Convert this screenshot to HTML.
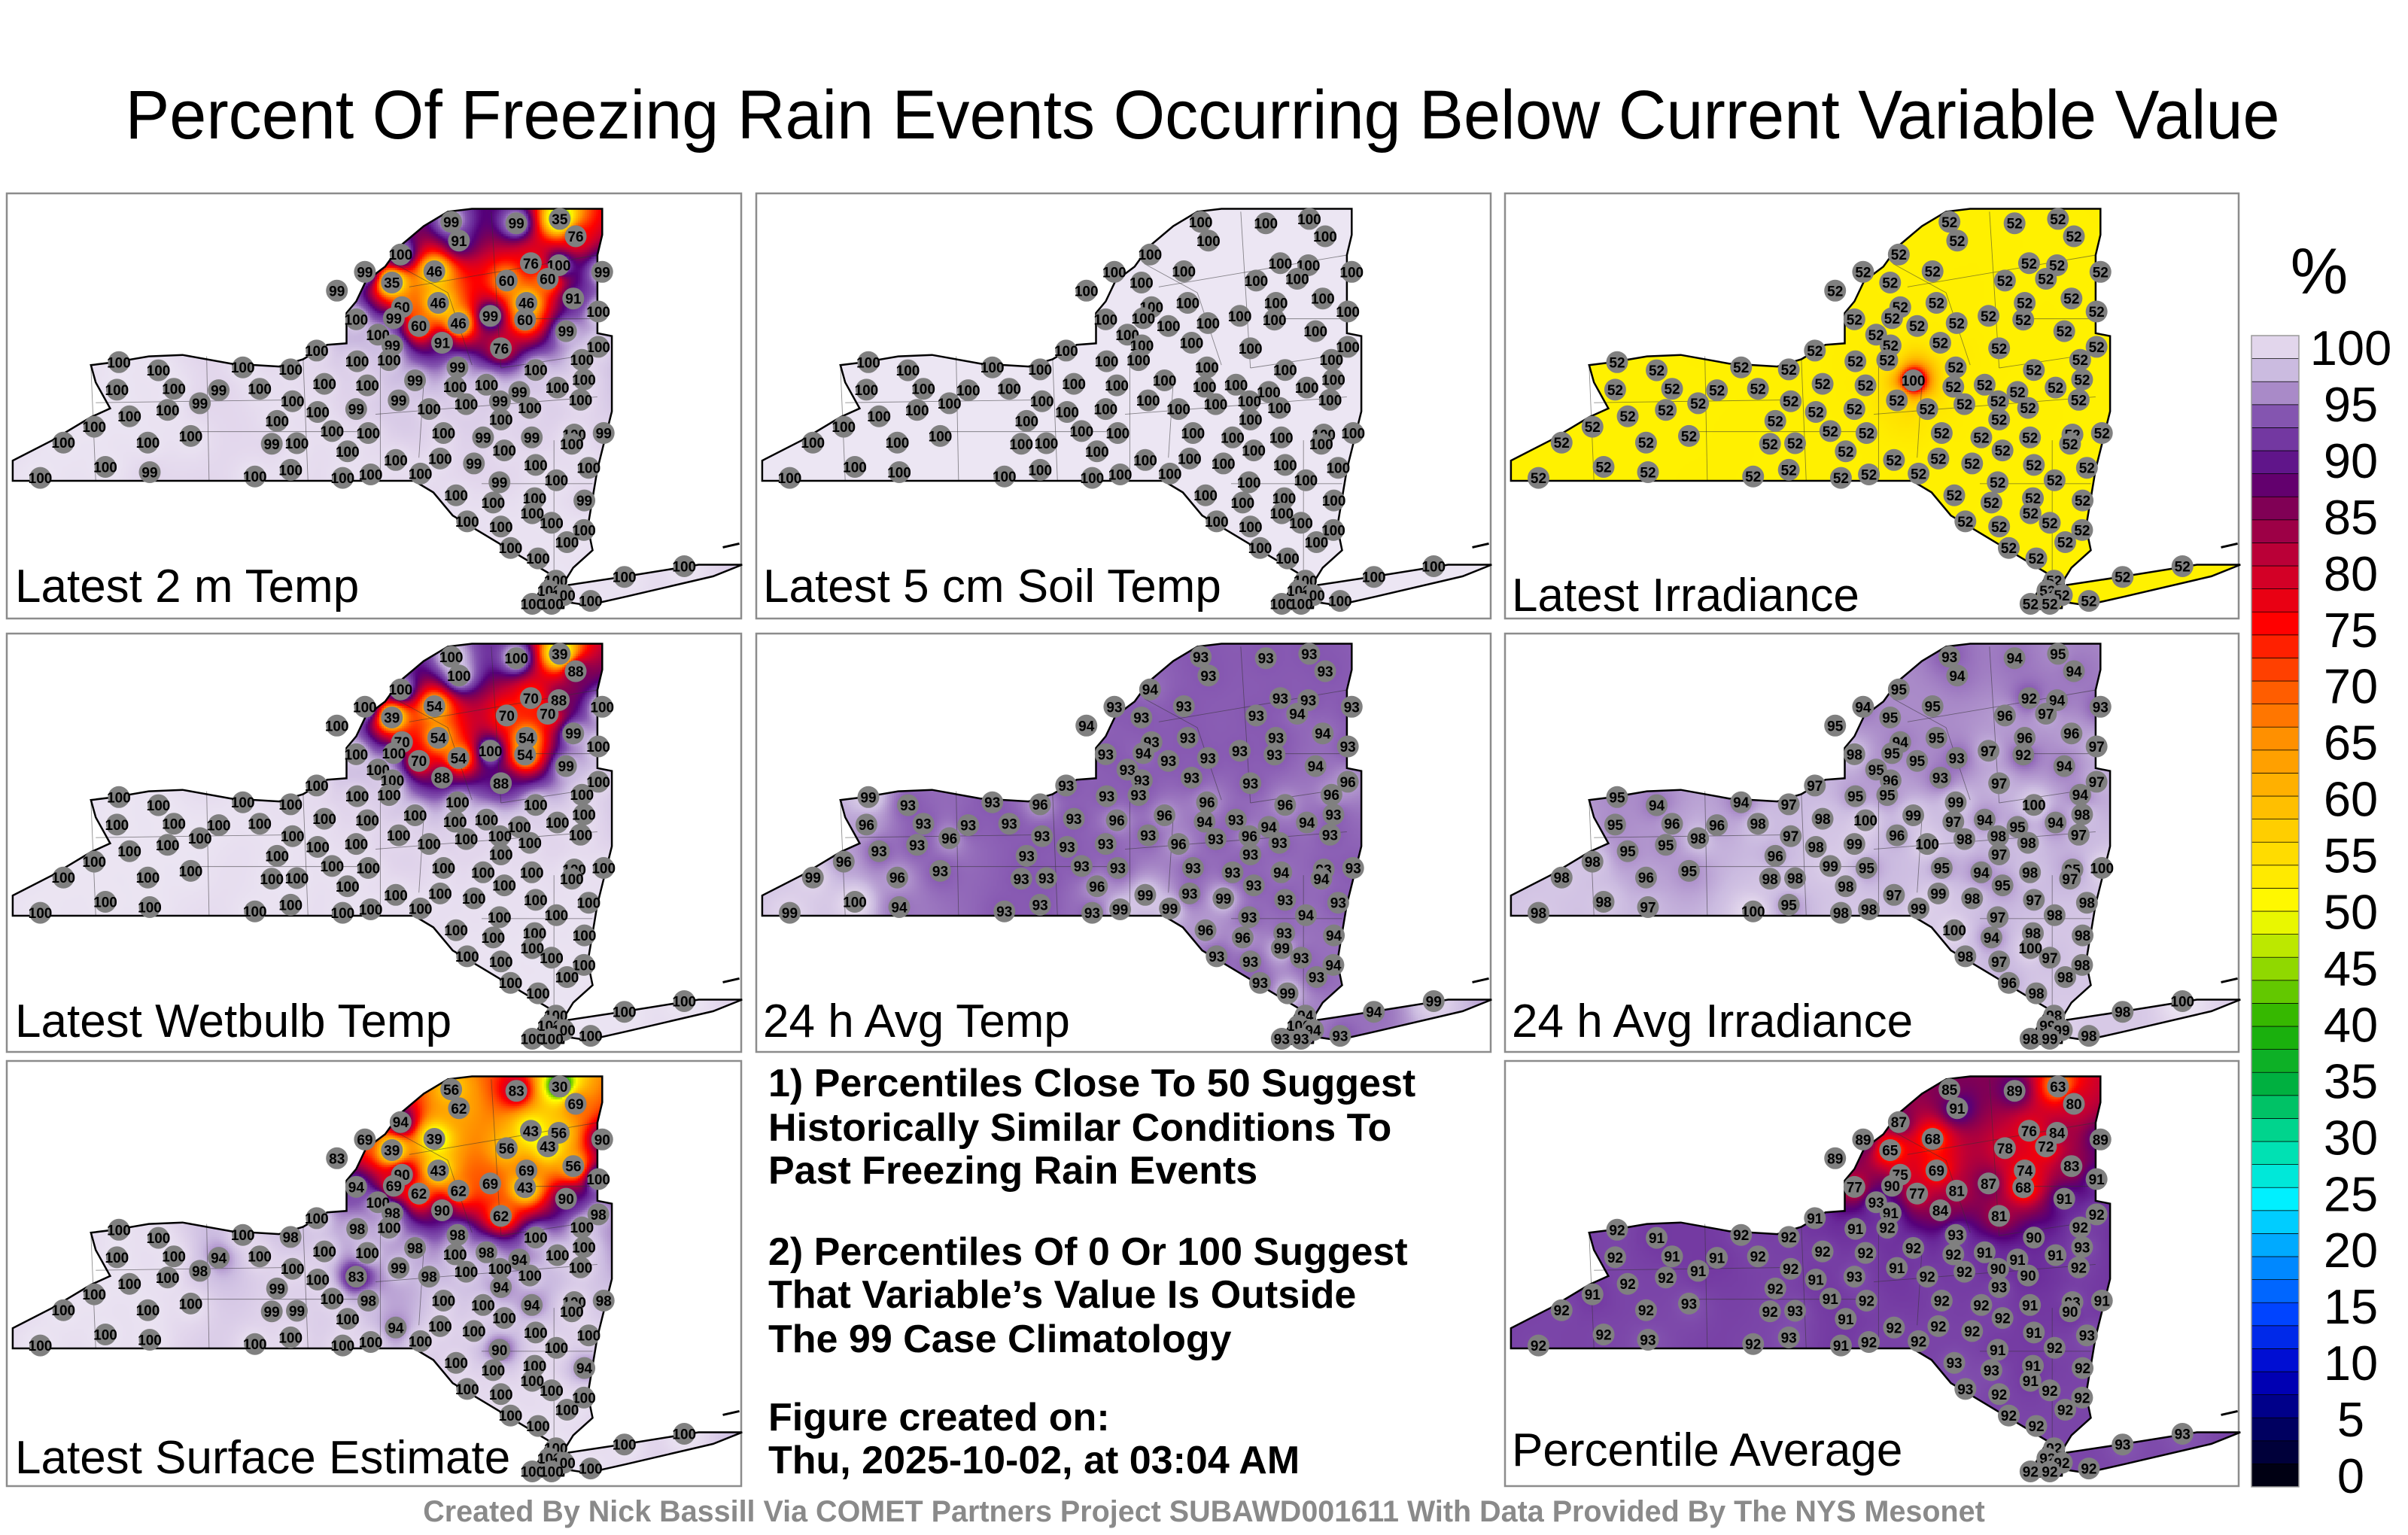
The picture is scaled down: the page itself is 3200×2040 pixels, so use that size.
<!DOCTYPE html>
<html><head><meta charset="utf-8"><style>
html,body{margin:0;padding:0;background:#fff}
#wrap{position:relative;width:3200px;height:2040px}
#field{position:absolute;left:0;top:0}
#fig{position:absolute;left:0;top:0;display:block}
</style></head><body>
<div id="wrap">
<canvas id="field" width="3200" height="2040"></canvas>
<svg id="fig" width="3200" height="2040" viewBox="0 0 3200 2040" xmlns="http://www.w3.org/2000/svg">
<text x="1598" y="184" text-anchor="middle" font-family="Liberation Sans, sans-serif" font-size="92" textLength="2863" lengthAdjust="spacingAndGlyphs">Percent Of Freezing Rain Events Occurring Below Current Variable Value</text>
<g id="panels"></g>
<g id="notes" font-family="Liberation Sans, sans-serif" font-weight="bold" font-size="52">
<text x="1021" y="1457">1) Percentiles Close To 50 Suggest</text>
<text x="1021" y="1516">Historically Similar Conditions To</text>
<text x="1021" y="1573">Past Freezing Rain Events</text>
<text x="1021" y="1681">2) Percentiles Of 0 Or 100 Suggest</text>
<text x="1021" y="1738">That Variable’s Value Is Outside</text>
<text x="1021" y="1797">The 99 Case Climatology</text>
<text x="1021" y="1901">Figure created on:</text>
<text x="1021" y="1958">Thu, 2025-10-02, at 03:04 AM</text>
</g>
<text x="1600" y="2022" text-anchor="middle" font-family="Liberation Sans, sans-serif" font-weight="bold" font-size="39.5" fill="#8a8a8a">Created By Nick Bassill Via COMET Partners Project SUBAWD001611 With Data Provided By The NYS Mesonet</text>
<g id="colorbar"></g>
</svg>
</div>
<script>
// station locations (map units)
const stationX=[937,1072,1162,1195,953,832,1102,1160,1250,758,902,1052,1137,814,700,1190,910,1093,835,1242,740,818,1018,1090,870,952,1175,785,918,815,1040,1242,658,742,808,1208,248,330,505,604,950,1112,1212,674,763,862,244,362,455,540,945,1010,1078,1157,416,608,828,968,1038,1205,740,660,891,1100,270,349,576,1040,197,690,765,921,1003,1104,1192,1253,133,308,397,565,617,722,1047,1187,822,914,984,1112,1222,220,312,85,530,604,712,770,873,1037,1155,947,1024,1110,1213,1105,1145,970,1040,1212,1177,1060,1117,1154,1140,1170,1105,1145,1226,1296,1420];
const stationY=[145,150,135,195,210,258,288,295,318,318,316,348,342,355,383,410,425,425,440,455,482,478,470,483,505,495,523,535,563,572,582,577,590,627,623,622,630,658,648,655,648,657,690,705,710,693,725,722,727,722,715,708,733,718,772,765,762,775,765,760,792,802,792,788,817,795,833,828,853,868,875,875,890,890,880,875,908,908,885,912,910,938,935,912,968,963,980,985,995,992,1010,1030,1025,1002,1030,1018,1015,1045,1038,1090,1115,1100,1108,1152,1185,1180,1198,1210,1252,1272,1308,1385,1420,1435,1465,1465,1455,1372,1335];
const vals2m=[99,99,35,76,91,100,76,100,99,99,46,60,60,35,99,91,46,46,60,100,100,99,99,60,60,46,99,100,91,99,76,100,100,100,100,100,100,100,100,100,99,100,100,100,100,99,100,100,99,100,100,100,99,100,99,100,99,100,99,100,99,100,100,100,100,100,100,100,100,100,100,100,99,99,100,99,100,100,100,99,100,100,100,100,100,100,99,100,100,100,99,100,100,100,100,100,100,99,100,100,100,100,99,100,100,100,100,100,100,100,100,100,100,100,100,100,100,100,100];
const valsSoil=[100,100,100,100,100,100,100,100,100,100,100,100,100,100,100,100,100,100,100,100,100,100,100,100,100,100,100,100,100,100,100,100,100,100,100,100,100,100,100,100,100,100,100,100,100,100,100,100,100,100,100,100,100,100,100,100,100,100,100,100,100,100,100,100,100,100,100,100,100,100,100,100,100,100,100,100,100,100,100,100,100,100,100,100,100,100,100,100,100,100,100,100,100,100,100,100,100,100,100,100,100,100,100,100,100,100,100,100,100,100,100,100,100,100,100,100,100,100,100];
const valsIrr=[52,52,52,52,52,52,52,52,52,52,52,52,52,52,52,52,52,52,52,52,52,52,52,52,52,52,52,52,52,52,52,52,52,52,52,52,52,52,52,52,52,52,52,52,52,100,52,52,52,52,52,52,52,52,52,52,52,52,52,52,52,52,52,52,52,52,52,52,52,52,52,52,52,52,52,52,52,52,52,52,52,52,52,52,52,52,52,52,52,52,52,52,52,52,52,52,52,52,52,52,52,52,52,52,52,52,52,52,52,52,52,52,52,52,52,52,52,52,52];
const valsWet=[100,100,39,88,100,100,70,88,100,100,54,70,70,39,100,99,54,54,70,100,100,100,100,54,70,54,99,100,88,100,88,100,100,100,100,100,100,100,100,100,100,100,100,100,100,100,100,100,100,100,100,100,100,100,100,100,100,100,100,100,100,100,100,100,100,100,100,100,100,100,100,100,100,100,100,100,100,100,100,100,100,100,100,100,100,100,100,100,100,100,100,100,100,100,100,100,100,100,100,100,100,100,100,100,100,100,100,100,100,100,100,100,100,100,100,100,100,100,100];
const valsAvgT=[93,93,93,93,93,94,93,93,93,93,93,93,94,93,94,94,93,93,93,93,93,94,93,93,93,93,94,93,93,93,93,96,93,93,93,96,99,93,93,96,96,96,93,93,96,96,96,93,93,93,94,93,94,94,96,93,93,93,96,93,93,93,96,93,93,93,93,93,96,93,93,93,93,94,93,93,99,96,93,93,93,96,93,94,99,93,99,93,93,100,94,99,93,93,93,99,99,93,94,96,96,93,94,99,93,93,93,94,93,93,99,94,100,94,93,93,93,94,99];
const valsAvgI=[93,94,95,94,94,95,92,94,93,94,95,96,97,95,95,96,95,96,94,97,98,95,97,92,95,93,94,95,93,96,97,97,97,95,95,94,95,94,94,97,99,100,98,98,100,99,95,96,96,98,97,94,95,94,98,97,96,98,98,97,99,98,100,98,95,95,96,97,98,99,95,95,94,98,95,100,98,96,95,98,98,98,95,97,97,99,98,97,98,98,97,98,100,95,98,98,99,97,98,100,94,98,98,100,97,98,97,98,98,96,98,98,99,99,98,99,98,98,100];
const valsSfc=[56,83,30,69,62,94,43,56,90,69,39,56,43,39,83,56,43,69,90,100,94,69,69,43,62,62,90,100,90,98,62,98,100,98,100,100,100,100,100,98,98,100,100,100,100,98,100,100,94,100,100,98,94,100,98,100,99,100,100,100,83,100,98,100,100,100,99,94,100,100,98,100,100,94,100,98,100,100,100,99,99,100,100,100,94,100,100,100,100,100,100,100,100,100,100,100,100,90,100,100,100,100,94,100,100,100,100,100,100,100,100,100,100,100,100,100,100,100,100];
const valsAvg=[85,89,63,80,91,87,76,84,89,89,68,78,72,65,89,83,69,74,75,91,77,90,87,68,77,81,91,93,84,91,81,92,91,91,92,92,92,91,92,92,93,90,93,92,92,92,92,91,91,92,92,91,91,91,91,92,91,92,90,92,93,91,92,90,92,92,92,93,91,91,92,92,92,91,93,91,92,92,93,92,93,91,92,90,92,92,92,91,93,92,93,92,92,93,91,92,92,91,92,93,93,91,92,91,92,93,92,92,92,92,92,92,92,92,92,92,92,93,93];
const panelTitles=["Latest 2 m Temp","Latest 5 cm Soil Temp","Latest Irradiance","Latest Wetbulb Temp","24 h Avg Temp","24 h Avg Irradiance","Latest Surface Estimate","Percentile Average"];
const panelValues=[vals2m,valsSoil,valsIrr,valsWet,valsAvgT,valsAvgI,valsSfc,valsAvg];
const cbTicks=[0,5,10,15,20,25,30,35,40,45,50,55,60,65,70,75,80,85,90,95,100];

const stops=[[0,"#000000"],[5,"#000060"],[10,"#0000c8"],[15,"#0044ff"],[20,"#0099ff"],[25,"#00f0ff"],[30,"#00dda0"],[35,"#00b040"],[40,"#20b000"],[45,"#90d800"],[50,"#ffff00"],[55,"#ffdc00"],[60,"#ffb800"],[65,"#ff9000"],[70,"#ff5000"],[75,"#ff0000"],[80,"#c80030"],[85,"#800055"],[88,"#55007a"],[90,"#6a2a9a"],[93,"#8455b0"],[95,"#a98ac8"],[97,"#cbbbe0"],[99,"#e2d6ec"],[100,"#ece6f3"]];
const stopRGB=stops.map(s=>[s[0],[1,3,5].map(i=>parseInt(s[1].substr(i,2),16))]);
function rgb(v){
  if(v<=0)return stopRGB[0][1];
  for(let i=1;i<stopRGB.length;i++){
    if(v<=stopRGB[i][0]){const a=stopRGB[i-1],b=stopRGB[i];const t=(v-a[0])/(b[0]-a[0]);
      return a[1].map((x,k)=>Math.round(x+(b[1][k]-x)*t));}
  }
  return stopRGB[stopRGB.length-1][1];
}
const color=v=>"rgb("+rgb(v).join(",")+")";
const NS="http://www.w3.org/2000/svg";
function mk(t,attrs,parent){const e=document.createElementNS(NS,t);for(const k in attrs)e.setAttribute(k,attrs[k]);if(parent)parent.appendChild(e);return e;}
const px=x=>x/1.56-10, py=y=>y/2.6-18;
const outline=[[28,1040],[28,970],[110,900],[190,820],[230,790],[200,700],[190,640],[240,630],[310,610],[380,605],[480,635],[580,645],[630,620],[680,570],[720,565],[720,460],[740,420],[760,350],[800,300],[830,230],[880,160],[930,110],[980,100],[1250,100],[1250,190],[1240,260],[1240,400],[1240,530],[1270,540],[1270,800],[1255,900],[1240,1000],[1230,1100],[1220,1200],[1230,1280],[1190,1340],[1175,1380],[1170,1480],[1100,1485],[1140,1360],[1070,1290],[1000,1220],[940,1160],[900,1080],[860,1040]];
const island=[[1180,1400],[1300,1370],[1450,1330],[1540,1330],[1480,1370],[1300,1440],[1220,1470],[1180,1460]];
const pathOf=pts=>"M"+pts.map(p=>px(p[0]).toFixed(1)+","+py(p[1]).toFixed(1)).join("L")+"Z";
const statePath=pathOf(outline)+pathOf(island);
const innerLines=[[[190,640],[200,1040]],[[430,610],[435,1040]],[[630,620],[640,1040]],[[790,620],[790,1040]],[[880,700],[870,960]],[[200,770],[620,760]],[[400,870],[780,870]],[[780,810],[1240,750]],[[1020,110],[1040,650]],[[850,370],[1240,260]],[[820,290],[930,390]],[[930,390],[980,640]],[[1100,480],[1240,480]],[[1040,650],[1240,600]],[[1000,1050],[1230,1050]],[[1150,900],[1150,1380]]];

const panelsG=document.getElementById("panels");
const ctx=document.getElementById("field").getContext("2d");
const origins=[[9,257,976,565],[1005,257,976,565],[2000,257,975,565],[9,842,976,556],[1005,842,976,556],[2000,842,975,556],[9,1410,976,565],[2000,1410,975,565]];
const mapDy=[0,0,0,-7,-7,-7,0,0];
const labelY=[543,543,555,536,536,536,548,538];
const SP=stationX.map((sx,i)=>[px(sx),py(stationY[i])]);
origins.forEach((o,pi)=>{
  const W=o[2],H=o[3],dy=mapDy[pi];
  const vals=panelValues[pi];
  const off=document.createElement("canvas");off.width=W;off.height=H;
  const octx=off.getContext("2d");const img=octx.createImageData(W,H);const D=img.data;
  const st=3;
  for(let y=0;y<H;y+=st){for(let x=0;x<W;x+=st){
    let sw=0,sv=0;const cy=y+1-dy,cx=x+1;
    for(let i=0;i<SP.length;i++){const ddx=cx-SP[i][0],ddy=cy-SP[i][1];const d2=ddx*ddx+ddy*ddy+60;const w=1/Math.pow(d2,1.25);sw+=w;sv+=w*vals[i];}
    const c=rgb(sv/sw);
    for(let yy=y;yy<Math.min(y+st,H);yy++)for(let xx=x;xx<Math.min(x+st,W);xx++){const k=(yy*W+xx)*4;D[k]=c[0];D[k+1]=c[1];D[k+2]=c[2];D[k+3]=255;}
  }}
  octx.putImageData(img,0,0);
  ctx.save();ctx.translate(o[0],o[1]+dy);ctx.clip(new Path2D(statePath));ctx.drawImage(off,0,-dy);ctx.restore();

  const frame=mk("rect",{x:o[0],y:o[1],width:W,height:H,fill:"none",stroke:"#8c8c8c","stroke-width":2.5},panelsG);
  
  
  const g=mk("g",{transform:"translate("+o[0]+","+(o[1]+dy)+")"},panelsG);
  
  
  innerLines.forEach(l=>{mk("line",{x1:px(l[0][0]),y1:py(l[0][1]),x2:px(l[1][0]),y2:py(l[1][1]),stroke:"#333","stroke-width":0.9,opacity:0.55},g);});
  const ol=mk("path",{d:statePath,fill:"none",stroke:"#000","stroke-width":2.5},g);
  
  
  mk("path",{d:"M"+px(1500)+","+py(1270)+"l22,-5",stroke:"#000","stroke-width":3},g);
  stationX.forEach((sx,i)=>{
    const sg=mk("g",{},g);
    
    
    mk("circle",{cx:SP[i][0],cy:SP[i][1],r:14.5,fill:"#808080"},sg);
    const t=mk("text",{x:SP[i][0],y:SP[i][1]+7,"text-anchor":"middle","font-family":"Liberation Sans, sans-serif","font-weight":"bold","font-size":19,fill:"#000"},sg);
    t.textContent=vals[i];
  });
  const lt=mk("text",{x:o[0]+(pi%3===0?11:9),y:o[1]+labelY[pi],"font-family":"Liberation Sans, sans-serif","font-size":62,fill:"#000"},panelsG);
  
  
  lt.textContent=panelTitles[pi];
});

// colorbar
const cb=document.getElementById("colorbar");
const cbX=2992,cbW=63,cbTop=446,cbBot=1976;
const yv=v=>cbBot-(v/100)*(cbBot-cbTop);
for(let v=0;v<100;v+=2){
  const r=mk("rect",{x:cbX,y:yv(v+2),width:cbW,height:yv(v)-yv(v+2),fill:color(v+1),stroke:"#000","stroke-width":0.7},cb);
  
  
}
mk("rect",{x:cbX,y:cbTop,width:cbW,height:cbBot-cbTop,fill:"none",stroke:"#999","stroke-width":1.5},cb);
const tickY0=461,tickY100=1960;
cbTicks.forEach(v=>{
  const y=tickY100-(v/100)*(tickY100-tickY0);
  const t=mk("text",{x:3124,y:y+24,"text-anchor":"middle","font-family":"Liberation Sans, sans-serif","font-size":65,fill:"#000"},cb);
  
  
  t.textContent=v;
});
const pct=mk("text",{x:3082,y:390,"text-anchor":"middle","font-family":"Liberation Sans, sans-serif","font-size":86,fill:"#000"},cb);


pct.textContent="%";
</script>
</body></html>
